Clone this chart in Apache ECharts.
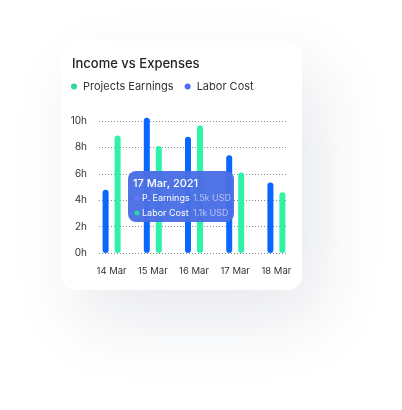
<!DOCTYPE html>
<html>
<head>
<meta charset="utf-8">
<script src="https://cdn.jsdelivr.net/npm/echarts@6/dist/echarts.min.js"></script>
<style>
html,body{margin:0;padding:0;background:#ffffff;}
#chart{width:402px;height:410px;}
</style>
</head>
<body>
<div id="chart"></div>
<script>
const categories = ['14 Mar', '15 Mar', '16 Mar', '17 Mar', '18 Mar'];
const laborCost = [4.8, 10.25, 8.8, 7.4, 5.35];
const projectsEarnings = [8.9, 8.1, 9.65, 6.1, 4.6];
const yTicks = [0, 2, 4, 6, 8, 10];
const tooltipTitle = '17 Mar, 2021';
const tooltipNames = ['P. Earnings', 'Labor Cost'];
const tooltipValues = ['1.5k USD', '1.1k USD'];

const FONT = 'Inter, "Noto Sans", sans-serif';
const chart = echarts.init(document.getElementById('chart'), null, {renderer: 'canvas'});

const tipX = 128, tipY = 171;
const TZ = 100;
chart.setOption({
  animation: false,
  backgroundColor: '#ffffff',
  textStyle: {fontFamily: FONT},
  title: {
    text: 'Income vs Expenses',
    left: 67, top: 53,
    textStyle: {fontFamily: FONT, fontSize: 13, fontWeight: 500, color: '#222222'}
  },
  legend: {
    left: 66, top: 76,
    icon: 'circle', itemWidth: 6, itemHeight: 6, itemGap: 11,
    textStyle: {fontFamily: FONT, fontSize: 11, color: '#333333', padding: [0, 0, 0, 1]},
    data: [
      {name: 'Projects Earnings', itemStyle: {color: '#2fd6a1'}},
      {name: 'Labor Cost', itemStyle: {color: '#4d6cf5'}}
    ]
  },
  grid: [
    {left: 99, right: 114, top: 121, bottom: 157},
    {left: 91, right: 105, top: 121, bottom: 157}
  ],
  xAxis: [
    {gridIndex: 0, type: 'category', data: categories, show: false},
    {gridIndex: 1, type: 'category', data: categories,
     axisLine: {show: false}, axisTick: {show: false},
     axisLabel: {interval: 0, margin: 13, fontFamily: FONT, fontSize: 9.5, color: '#333333'}}
  ],
  yAxis: [
    {gridIndex: 0, type: 'value', min: yTicks[0], max: yTicks[yTicks.length - 1], interval: 2,
     axisLine: {show: false}, axisTick: {show: false},
     axisLabel: {margin: 12, fontFamily: FONT, fontSize: 10, color: '#333333', formatter: '{value}h'},
     splitLine: {show: true, lineStyle: {color: '#8a8a8a', width: 1, type: [1, 2]}}},
    {gridIndex: 1, type: 'value', min: 0, max: 10, show: false, splitLine: {show: false}}
  ],
  series: [
    {name: 'Labor Cost', type: 'bar', xAxisIndex: 1, yAxisIndex: 1, data: laborCost,
     barWidth: 6, barGap: '100%', clip: false,
     itemStyle: {color: '#0a66ff', borderRadius: 3}},
    {name: 'Projects Earnings', type: 'bar', xAxisIndex: 1, yAxisIndex: 1, data: projectsEarnings,
     barWidth: 6, barGap: '100%', clip: false,
     itemStyle: {color: '#2ef2a8', borderRadius: 3}}
  ],
  graphic: {
    elements: [
      {type: 'rect', z: -10, silent: true,
       shape: {x: 61, y: 41, width: 241, height: 249, r: 14},
       style: {fill: '#ffffff', shadowBlur: 70, shadowOffsetX: 18, shadowOffsetY: 30, shadowColor: 'rgba(30,40,80,0.10)'}},
      {type: 'rect', z: TZ, zlevel: 1, shape: {x: tipX, y: tipY, width: 106, height: 51, r: 8},
       style: {fill: 'rgba(74,110,228,0.97)'}},
      {type: 'text', z: TZ + 1, zlevel: 1, x: tipX + 5, y: tipY + 12.5,
       style: {text: tooltipTitle, fill: '#ffffff', font: '500 11px ' + FONT, textVerticalAlign: 'middle'}},
      {type: 'circle', z: TZ + 1, zlevel: 1, shape: {cx: tipX + 9, cy: tipY + 27, r: 2.5}, style: {fill: '#6478f4'}},
      {type: 'text', z: TZ + 1, zlevel: 1, x: tipX + 14, y: tipY + 27,
       style: {text: tooltipNames[0], fill: '#ffffff', font: '9px ' + FONT, textVerticalAlign: 'middle'}},
      {type: 'text', z: TZ + 1, zlevel: 1, x: tipX + 65, y: tipY + 27,
       style: {text: tooltipValues[0], fill: 'rgba(255,255,255,0.55)', font: '9px ' + FONT, textVerticalAlign: 'middle'}},
      {type: 'circle', z: TZ + 1, zlevel: 1, shape: {cx: tipX + 9, cy: tipY + 42, r: 2.5}, style: {fill: '#2fd6a1'}},
      {type: 'text', z: TZ + 1, zlevel: 1, x: tipX + 14, y: tipY + 42,
       style: {text: tooltipNames[1], fill: '#ffffff', font: '9px ' + FONT, textVerticalAlign: 'middle'}},
      {type: 'text', z: TZ + 1, zlevel: 1, x: tipX + 65, y: tipY + 42,
       style: {text: tooltipValues[1], fill: 'rgba(255,255,255,0.55)', font: '9px ' + FONT, textVerticalAlign: 'middle'}}
    ]
  }
});
</script>
</body>
</html>
